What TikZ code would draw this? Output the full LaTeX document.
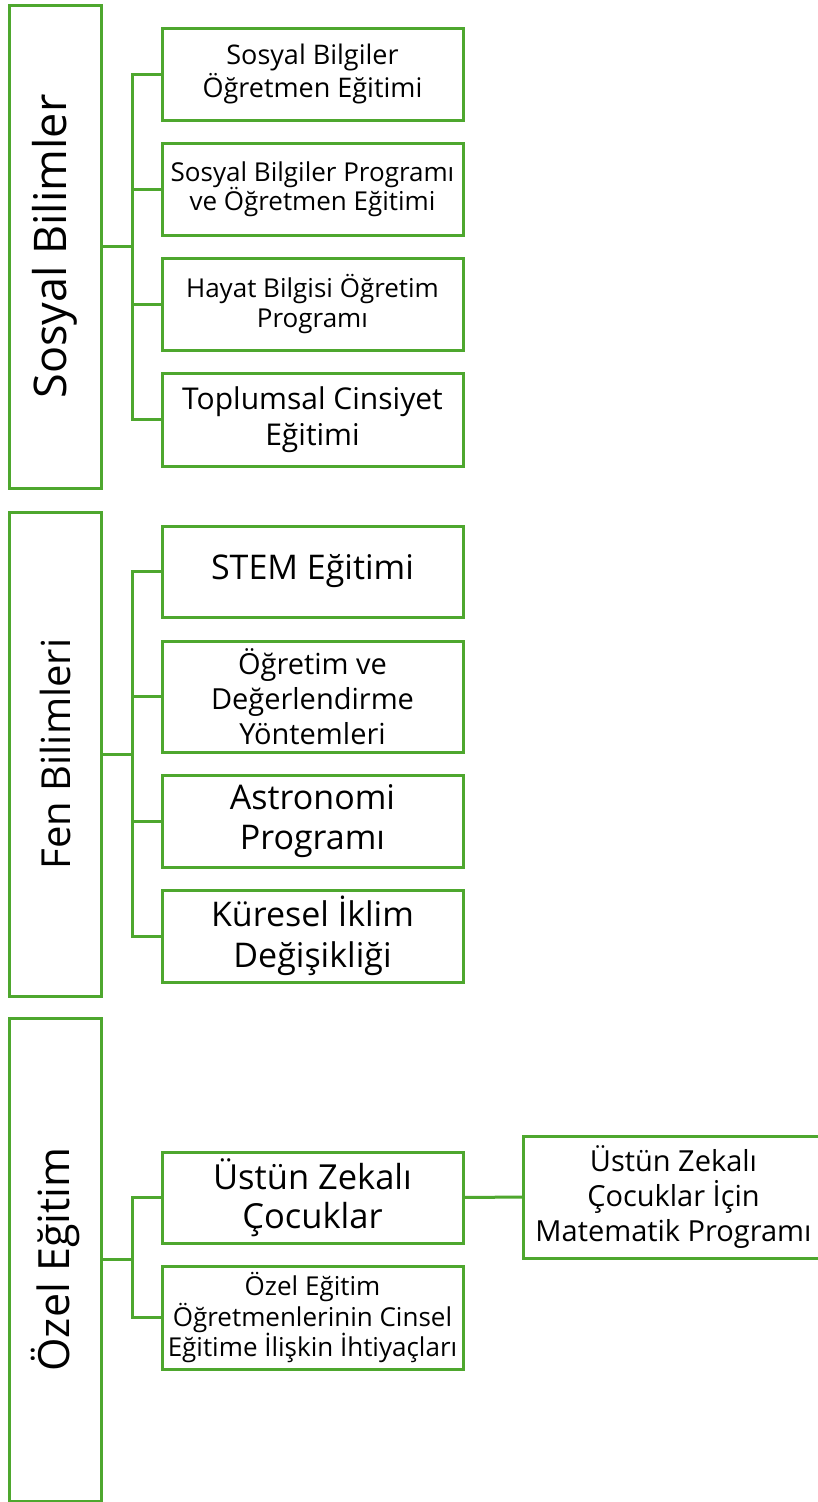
\documentclass[tikz,border=0pt]{standalone}
\usepackage{fontspec}
\setmainfont{Open Sans}
\definecolor{gline}{HTML}{4EA72E}
\newcommand\fsz[2]{\fontsize{#1}{#2}\selectfont}
\tikzset{
  every node/.style={inner sep=0pt, outer sep=0pt},
  leftbox/.style={draw=gline, line width=3pt, minimum width=92pt, fill=white},
  childbox/.style={draw=gline, line width=3pt, minimum width=301pt, align=center, fill=white},
  conn/.style={draw=gline, line width=3pt},
  vlabel/.style={rotate=90}
}
\begin{document}
\begin{tikzpicture}[x=1pt,y=-1pt]
\useasboundingbox (0,0) rectangle (818,1502);
\fill[white] (0,0) rectangle (818,1502);

% left boxes
\node[leftbox, minimum height=483pt] (L1) at (55,246.5) {};
\node[leftbox, minimum height=484pt] (L2) at (55,754) {};
\node[leftbox, minimum height=483pt] (L3) at (55,1259.5) {};
\node[vlabel, font=\fsz{45}{52}] (T1) at (L1.center) {Sosyal Bilimler};
\node[vlabel, font=\fsz{40}{48}] (T2) at (L2.center) {Fen Bilimleri};
\node[vlabel, font=\fsz{43}{50}] (T3) at (L3.center) {Özel Eğitim};

% section 1
\node[childbox, minimum height=92pt, font=\fsz{27}{33}] (a1) at (312.5,74) {Sosyal Bilgiler\\Öğretmen Eğitimi};
\node[childbox, minimum height=92pt, font=\fsz{26}{29.5}] (a2) at (312.5,189) {Sosyal Bilgiler Programı\\ve Öğretmen Eğitimi};
\node[childbox, minimum height=92pt, font=\fsz{26}{30}] (a3) at (312.5,304) {Hayat Bilgisi Öğretim\\Programı};
\node[childbox, minimum height=93pt, font=\fsz{30}{36}] (a4) at (312.5,419.5) {Toplumsal Cinsiyet\\Eğitimi};

% section 2
\node[childbox, minimum height=91pt, font=\fsz{34}{40}] (b1) at (312.5,571.5) {STEM Eğitimi};
\node[childbox, minimum height=111pt, font=\fsz{29}{35}] (b2) at (312.5,696.5) {Öğretim ve\\Değerlendirme\\Yöntemleri};
\node[childbox, minimum height=92pt, font=\fsz{34}{40}] (b3) at (312.5,821) {Astronomi\\Programı};
\node[childbox, minimum height=92pt, font=\fsz{34}{40.5}] (b4) at (312.5,936) {Küresel İklim\\Değişikliği};

% section 3
\node[childbox, minimum height=91pt, font=\fsz{34.5}{39.5}] (c1) at (312.5,1197.5) {Üstün Zekalı\\Çocuklar};
\node[childbox, minimum height=103pt, font=\fsz{26}{30.5}] (c2) at (312.5,1317.5) {Özel Eğitim\\Öğretmenlerinin Cinsel\\Eğitime İlişkin İhtiyaçları};
\node[childbox, minimum height=122pt, font=\fsz{29}{35}] (m1) at (673.5,1197) {Üstün Zekalı\\Çocuklar İçin\\Matematik Programı};

% connectors
\foreach \c in {a1,a2,a3,a4} { \draw[conn] (\c.west) -- ++(-29.5,0) |- (L1.east); }
\foreach \c in {b1,b2,b3,b4} { \draw[conn] (\c.west) -- ++(-29.5,0) |- (L2.east); }
\foreach \c in {c1,c2} { \draw[conn] (\c.west) -- ++(-29.5,0) |- (L3.east); }
\draw[conn] (c1.east) -- (m1.west);
\end{tikzpicture}
\end{document}
